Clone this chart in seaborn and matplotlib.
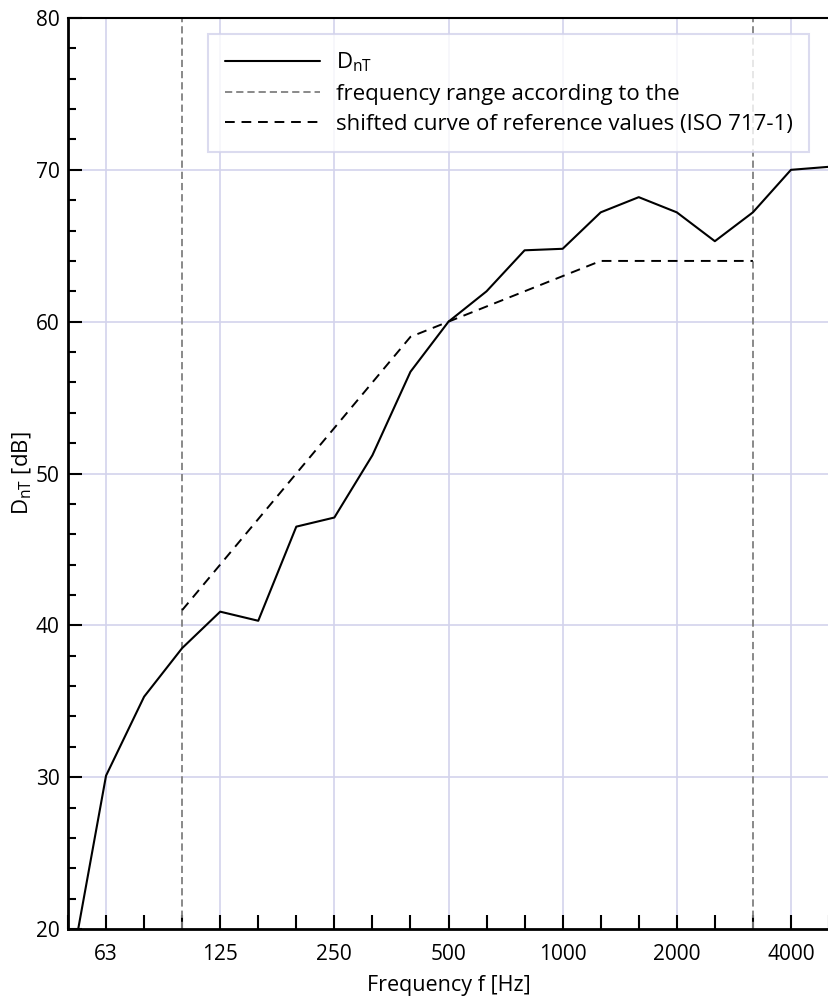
import numpy as np
import pandas as pd
import seaborn as sns
import matplotlib
matplotlib.use("Agg")
import matplotlib.pyplot as plt
from matplotlib.ticker import MultipleLocator, FixedLocator

# third-octave bands 50 Hz .. 5000 Hz
freqs = [50, 63, 80, 100, 125, 160, 200, 250, 315, 400, 500, 630, 800,
         1000, 1250, 1600, 2000, 2500, 3150, 4000, 5000]
dnt = [16.3, 30.1, 35.3, 38.5, 40.9, 40.3, 46.5, 47.1, 51.2, 56.7, 60.0,
       62.0, 64.7, 64.8, 67.2, 68.2, 67.2, 65.3, 67.2, 70.0, 70.2]
# shifted reference curve (ISO 717-1), 100 Hz .. 3150 Hz
ref_freqs = [100, 125, 160, 200, 250, 315, 400, 500, 630, 800, 1000,
             1250, 1600, 2000, 2500, 3150]
ref_vals = [41, 44, 47, 50, 53, 56, 59, 60, 61, 62, 63, 64, 64, 64, 64, 64]
range_lo, range_hi = 100, 3150
octave_labels = [63, 125, 250, 500, 1000, 2000, 4000]

sns.set_theme(style="white")
plt.rcParams['font.family'] = ['Open Sans', 'DejaVu Sans']
plt.rcParams['mathtext.default'] = 'regular'

grid_col = "#d3d3ec"
band = {f: i for i, f in enumerate(freqs)}

df = pd.DataFrame({"x": [band[f] for f in freqs], "y": dnt})
dref = pd.DataFrame({"x": [band[f] for f in ref_freqs], "y": ref_vals})

fig = plt.figure(figsize=(8.29, 9.99), dpi=100)
ax = fig.add_axes([68/829, 1-929/999, 1-68/829, (929-18)/999])

for f in octave_labels:
    ax.axvline(band[f], color=grid_col, lw=1.2, zorder=0)
for v in range(30, 80, 10):
    ax.axhline(v, color=grid_col, lw=1.2, zorder=0)

sns.lineplot(data=df, x="x", y="y", ax=ax, color="black", lw=1.5,
             label=r"D$_{nT}$", zorder=3)
ax.axvline(band[range_lo], color="#808080", lw=1.3, dashes=(4, 2.2), zorder=2,
           label="frequency range according to the")
ax.axvline(band[range_hi], color="#808080", lw=1.3, dashes=(4, 2.2), zorder=2)
sns.lineplot(data=dref, x="x", y="y", ax=ax, color="black", lw=1.4,
             label="shifted curve of reference values (ISO 717-1)", zorder=3)
ax.lines[-1].set_dashes((5, 3.5))

ax.set_xlim(0, len(freqs) - 1)
ax.set_ylim(20, 80)

ax.xaxis.set_major_locator(FixedLocator([band[f] for f in octave_labels]))
ax.set_xticklabels([str(f) for f in octave_labels])
ax.xaxis.set_minor_locator(FixedLocator(range(len(freqs))))
ax.yaxis.set_major_locator(MultipleLocator(10))
ax.yaxis.set_minor_locator(MultipleLocator(2))

ax.tick_params(axis="x", which="both", direction="in", length=10, width=1.5,
               labelsize=15, pad=11, bottom=True, color="black")
ax.tick_params(axis="y", which="major", direction="in", length=10, width=1.5,
               labelsize=15, left=True, color="black", pad=6)
ax.tick_params(axis="y", which="minor", direction="in", length=6, width=1.5,
               left=True, color="black")
for t in ax.get_xticklabels() + ax.get_yticklabels():
    t.set_color("black")

for side in ["left", "bottom"]:
    ax.spines[side].set_linewidth(2)
    ax.spines[side].set_color("black")
ax.spines["top"].set_linewidth(1.5)
ax.spines["top"].set_color("black")
ax.spines["right"].set_visible(False)

ax.set_xlabel("Frequency f [Hz]", fontsize=15.5, labelpad=7, color="black")
ax.set_ylabel(r"D$_{nT}$ [dB]", fontsize=16, labelpad=1, color="black")

leg = ax.legend(loc="upper left", bbox_to_anchor=(208/761 - 68/761, 1 - 16/911),
                fontsize=16, handlelength=4.3, handletextpad=0.7,
                borderpad=0.75, labelspacing=0.42, borderaxespad=0,
                fancybox=False, framealpha=0.8, edgecolor=grid_col)
leg.get_frame().set_linewidth(1.5)
for t in leg.get_texts():
    t.set_color("black")

fig.savefig("out.png", dpi=100)
